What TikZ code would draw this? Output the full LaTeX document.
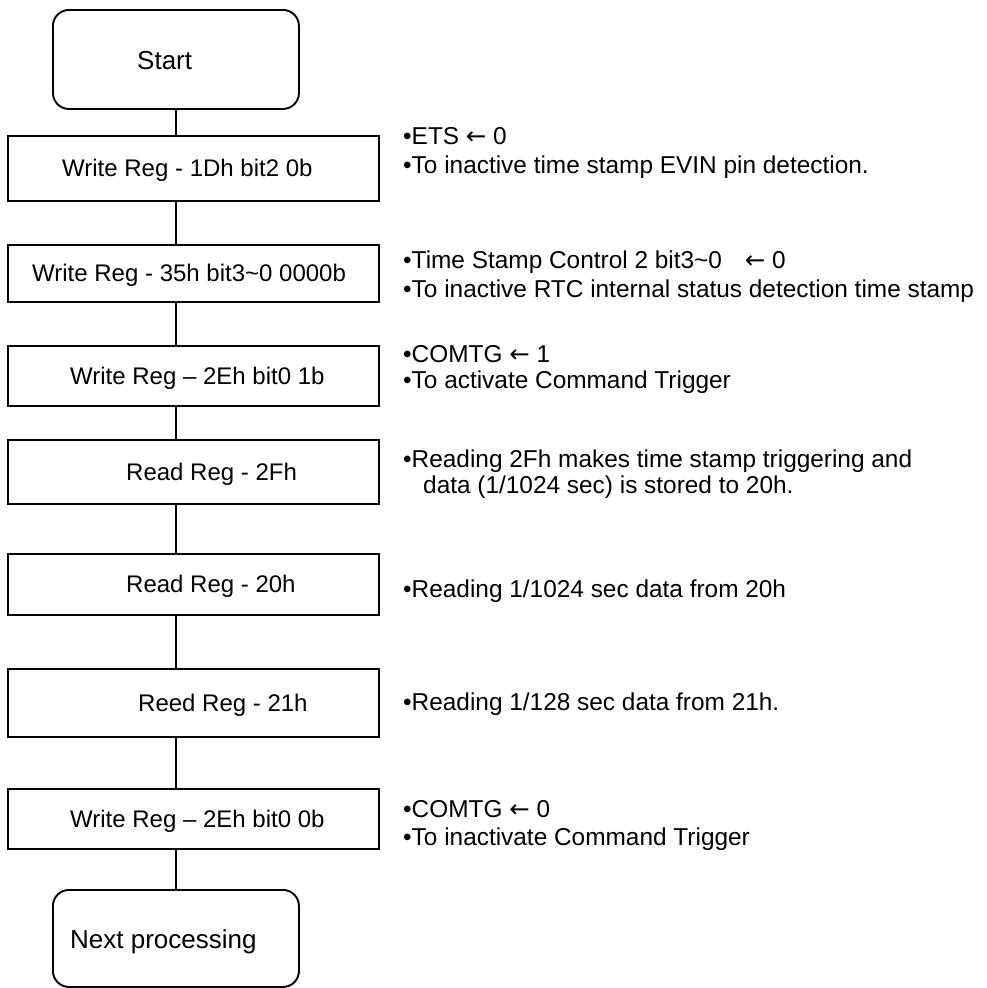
\documentclass[tikz,border=0pt]{standalone}
\usepackage{fontspec}
\setmainfont{Liberation Sans}
\newfontfamily\symf{DejaVu Sans}
\usetikzlibrary{calc}
\newcommand{\larr}{{\symf ←}}
\begin{document}
\begin{tikzpicture}[x=1pt,y=-1pt,
  box/.style={draw, line width=1.9pt, minimum width=371pt, inner sep=0pt, anchor=north west},
  term/.style={draw, line width=1.9pt, rounded corners=16pt, minimum width=246pt, inner sep=0pt, anchor=north west},
  lbl/.style={font=\fontsize{24}{28}\selectfont, anchor=base west, inner sep=0pt},
  tlbl/.style={font=\fontsize{26}{30}\selectfont, anchor=base west, inner sep=0pt},
  cmt/.style={font=\fontsize{24.4}{28}\selectfont, anchor=base west, inner sep=0pt},
  conn/.style={line width=1.5pt}]
\useasboundingbox (0,0) rectangle (987,988);
% boxes
\node[term, minimum height=99pt] (start) at (52,9) {};
\node[box, minimum height=65pt] (b1) at (7,135) {};
\node[box, minimum height=57pt] (b2) at (7,244) {};
\node[box, minimum height=60pt] (b3) at (7,345) {};
\node[box, minimum height=64pt] (b4) at (7,439) {};
\node[box, minimum height=61pt] (b5) at (7,553) {};
\node[box, minimum height=68pt] (b6) at (7,668) {};
\node[box, minimum height=60pt] (b7) at (7,788) {};
\node[term, minimum height=97pt] (next) at (52,889) {};
% box texts
\node[tlbl] (ts) at ($(start.west)+(85,10.5)$) {Start};
\node[lbl] (t1) at ($(b1.west)+(55,8.5)$) {Write Reg - 1Dh bit2 0b};
\node[lbl] (t2) at ($(b2.west)+(25,8.5)$) {Write Reg - 35h bit3\char`\~0 0000b};
\node[lbl] (t3) at ($(b3.west)+(63,8.5)$) {Write Reg – 2Eh bit0 1b};
\node[lbl] (t4) at ($(b4.west)+(119,8.5)$) {Read Reg - 2Fh};
\node[lbl] (t5) at ($(b5.west)+(119,8.5)$) {Read Reg - 20h};
\node[lbl] (t6) at ($(b6.west)+(131,8.5)$) {Reed Reg - 21h};
\node[lbl] (t7) at ($(b7.west)+(63,8.5)$) {Write Reg – 2Eh bit0 0b};
\node[tlbl] (tn) at ($(next.west)+(18,10.5)$) {Next processing};
% connectors
\coordinate (ax) at (start.south);
\draw[conn] (start.south) -- (ax |- b1.north);
\draw[conn] (ax |- b1.south) -- (ax |- b2.north);
\draw[conn] (ax |- b2.south) -- (ax |- b3.north);
\draw[conn] (ax |- b3.south) -- (ax |- b4.north);
\draw[conn] (ax |- b4.south) -- (ax |- b5.north);
\draw[conn] (ax |- b5.south) -- (ax |- b6.north);
\draw[conn] (ax |- b6.south) -- (ax |- b7.north);
\draw[conn] (ax |- b7.south) -- (next.north);
% comments
\node[cmt] (c1a) at (403,144) {•ETS \larr\ 0};
\node[cmt] (c1b) at (403,173) {•To inactive time stamp EVIN pin detection.};
\node[cmt] (c2a) at (403,268) {•Time Stamp Control 2 bit3\char`\~0\hspace{16pt} \larr\ 0};
\node[cmt] (c2b) at (403,297) {•To inactive RTC internal status detection time stamp};
\node[cmt] (c3a) at (403,362) {•COMTG \larr\ 1};
\node[cmt] (c3b) at (403,388) {•To activate Command Trigger};
\node[cmt] (c4a) at (403,467) {•Reading 2Fh makes time stamp triggering and};
\node[cmt] (c4b) at (423,493) {data (1/1024 sec) is stored to 20h.};
\node[cmt] (c5) at (403,597) {•Reading 1/1024 sec data from 20h};
\node[cmt] (c6) at (403,710) {•Reading 1/128 sec data from 21h.};
\node[cmt] (c7a) at (403,817) {•COMTG \larr\ 0};
\node[cmt] (c7b) at (403,845) {•To inactivate Command Trigger};
\end{tikzpicture}
\end{document}
